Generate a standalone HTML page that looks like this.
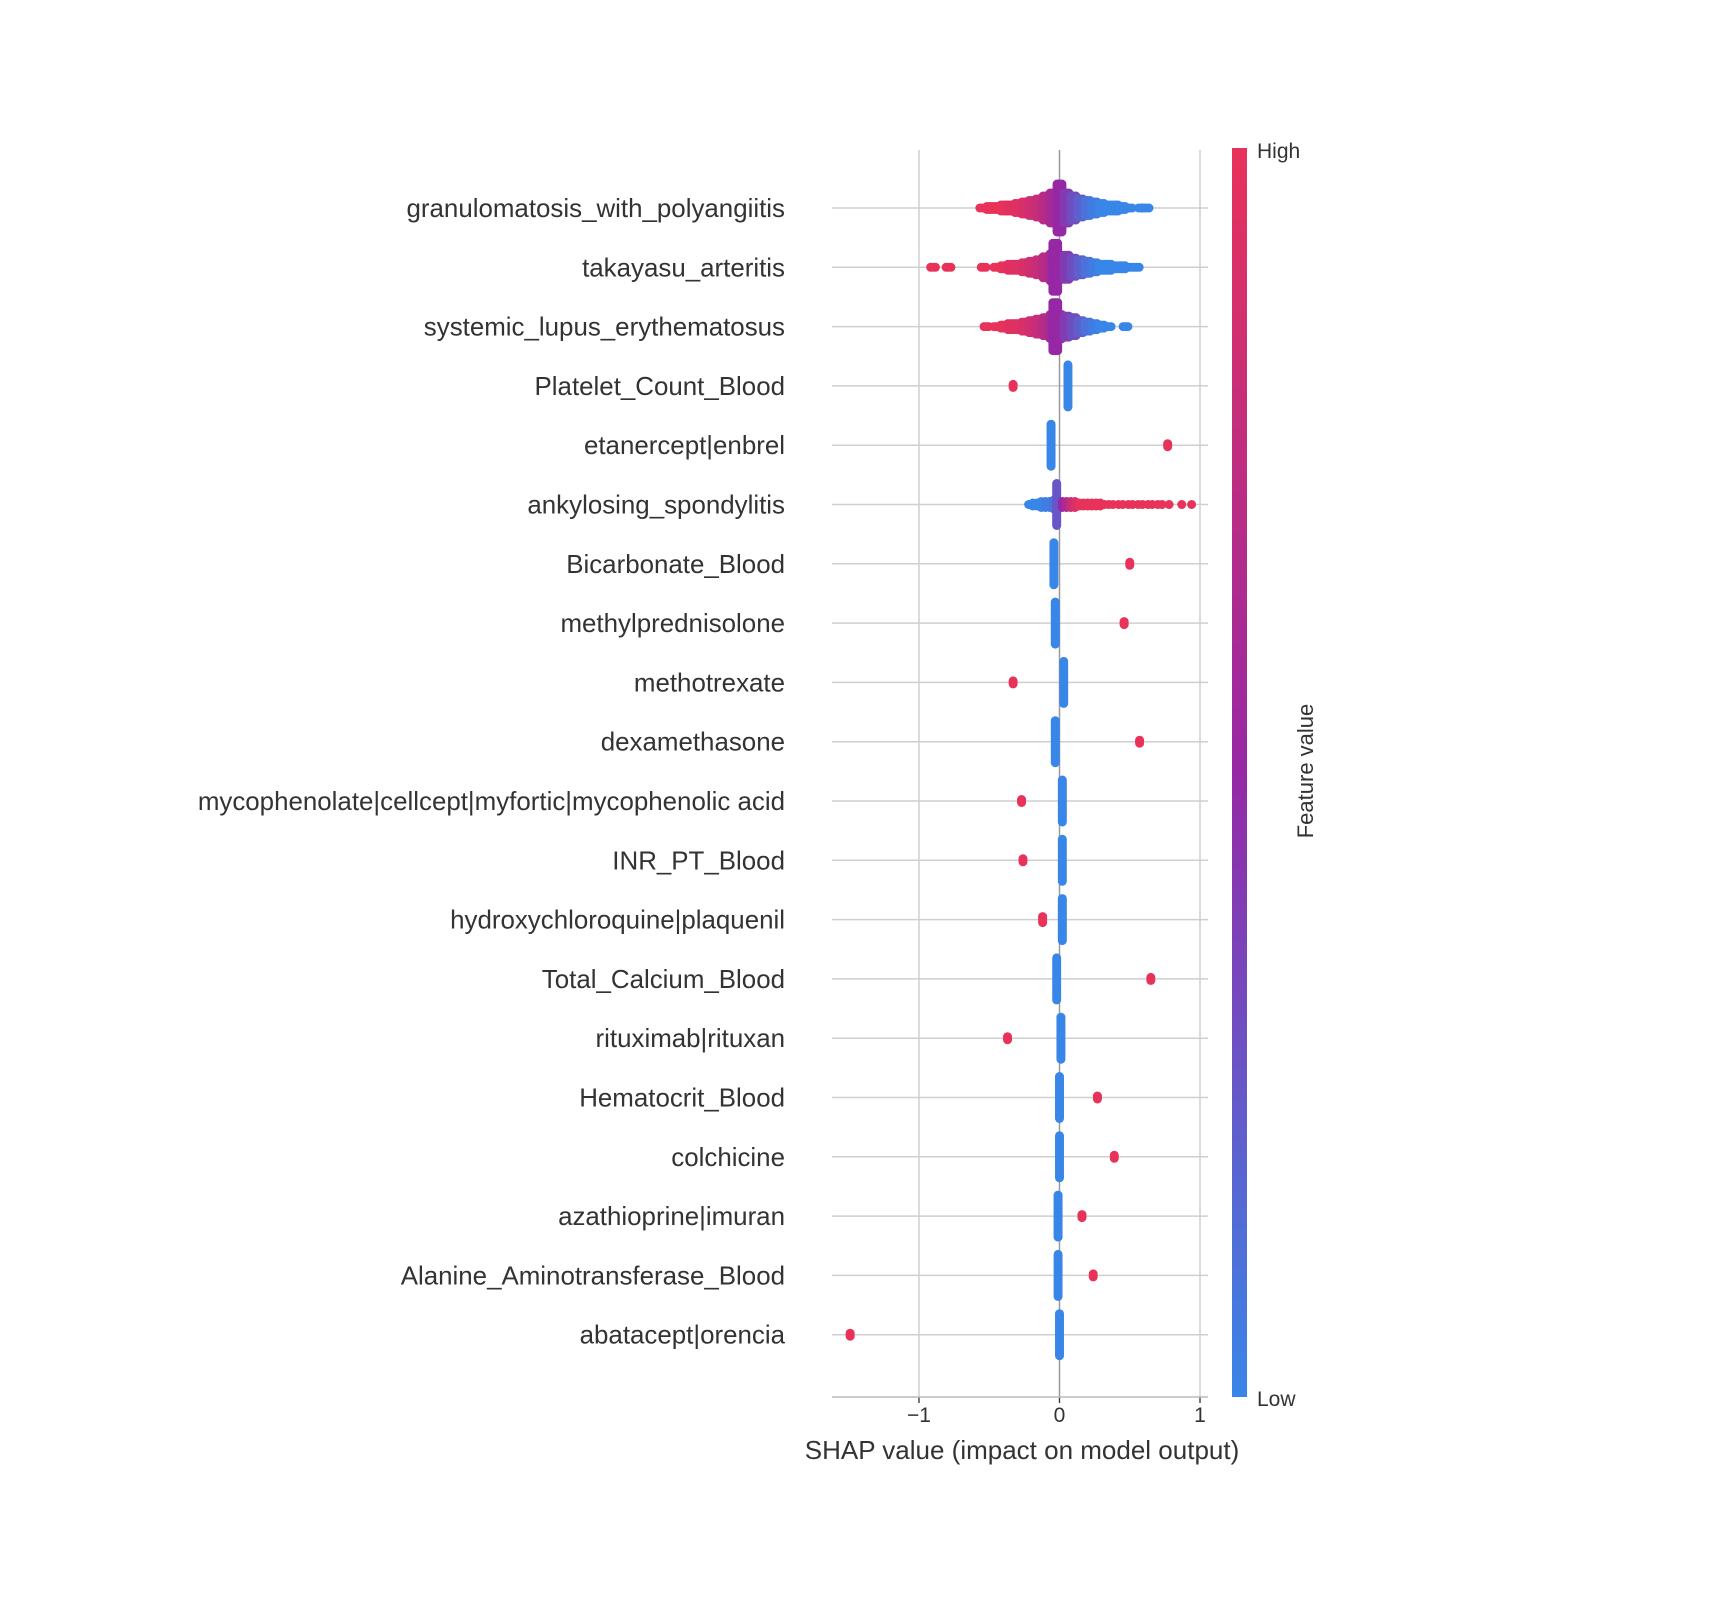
<!DOCTYPE html>
<html><head><meta charset="utf-8"><style>
html,body{margin:0;padding:0;background:#fff;}
svg{display:block;font-family:"Liberation Sans",Arial,sans-serif;}
</style></head><body>
<svg id="chart" width="1718" height="1600" viewBox="0 0 1718 1600" xmlns="http://www.w3.org/2000/svg">
<defs>
<linearGradient id="cbar" x1="0" y1="1" x2="0" y2="0">
<stop offset="0" stop-color="rgb(56,134,232)"/>
<stop offset="0.5" stop-color="rgb(150,40,165)"/>
<stop offset="1" stop-color="rgb(232,50,90)"/>
</linearGradient>
</defs>
<g id="grid"></g>
<g id="marks"></g>
<g id="labels"></g>
<g id="xaxis"></g>
<text x="1022" y="1459" text-anchor="middle" font-size="26" fill="#333">SHAP value (impact on model output)</text>
<rect x="1232" y="148" width="15" height="1249" fill="url(#cbar)"/>
<text x="1257" y="158" font-size="21" fill="#333">High</text>
<text x="1257" y="1406" font-size="21" fill="#333">Low</text>
<text transform="translate(1313,771) rotate(-90)" text-anchor="middle" font-size="22" fill="#333">Feature value</text>
</svg>
<script>
const features = ["granulomatosis_with_polyangiitis","takayasu_arteritis","systemic_lupus_erythematosus","Platelet_Count_Blood","etanercept|enbrel","ankylosing_spondylitis","Bicarbonate_Blood","methylprednisolone","methotrexate","dexamethasone","mycophenolate|cellcept|myfortic|mycophenolic acid","INR_PT_Blood","hydroxychloroquine|plaquenil","Total_Calcium_Blood","rituximab|rituxan","Hematocrit_Blood","colchicine","azathioprine|imuran","Alanine_Aminotransferase_Blood","abatacept|orencia"];
const xTicks = [-1, 0, 1];
const xTickLabels = ["\u22121", "0", "1"];
// each entry: [shap value, stack layers, feature value 0..1]; dense rows use bins of 0.05
const denseRows = [0, 1, 2];
const row0 = [[-0.55,0,1],[-0.5,0.5,1],[-0.45,0.5,1],[-0.4,1,1],[-0.35,1,.95],[-0.3,1.5,.95],[-0.25,2,.9],[-0.2,2.5,.85],[-0.15,3,.8],[-0.1,4,.7],[-0.05,5,.6],[0,8,.5],[0.05,5,.4],[0.1,4,.3],[0.15,3,.2],[0.2,2.5,.1],[0.25,2,.05],[0.3,1.5,0],[0.35,1,0],[0.4,1,0],[0.45,0.5,0],[0.5,0,0],[0.58,0,0],[0.62,0,0]];
const row1 = [[-0.9,0,1],[-0.79,0,1],[-0.54,0,1],[-0.45,0,1],[-0.4,0.5,1],[-0.35,1,.95],[-0.3,1,.95],[-0.25,1.5,.9],[-0.2,2,.85],[-0.15,2.5,.8],[-0.1,3.5,.7],[-0.05,4.5,.6],[-0.03,8,.5],[0,4,.5],[0.05,4,.4],[0.1,3,.3],[0.15,2.5,.2],[0.2,2,.1],[0.25,1.5,.05],[0.3,1,0],[0.35,1,0],[0.4,0.5,0],[0.45,0.5,0],[0.5,0,0],[0.55,0,0]];
const row2 = [[-0.52,0,1],[-0.45,0,1],[-0.4,0.5,1],[-0.35,1,.95],[-0.3,1,.95],[-0.25,1.5,.9],[-0.2,2,.85],[-0.15,2.5,.8],[-0.1,3,.7],[-0.05,4,.6],[-0.03,8,.5],[0,4,.5],[0.05,3.5,.4],[0.1,3,.3],[0.15,2,.2],[0.2,1.5,.1],[0.25,1,.05],[0.3,0.5,0],[0.35,0,0],[0.47,0,0]];
const row3 = [[-0.33,0.7,1],[0.06,7,0]];
const row4 = [[-0.06,7,0],[0.77,0.3,1]];
const row5 = [[-0.22,0,0],[-0.19,0.5,0],[-0.16,0.5,0],[-0.13,1,0],[-0.1,1,0.05],[-0.07,1,0.05],[-0.04,1.5,0.1],[-0.02,7,0.25],[0.02,1,0.5],[0.05,1,0.65],[0.08,1,0.8],[0.11,1,0.9],[0.14,0.5,1],[0.17,0.5,1],[0.2,0.5,1],[0.23,0.5,1],[0.26,0.5,1],[0.29,0.5,1],[0.32,0,1],[0.35,0,1],[0.38,0,1],[0.42,0,1],[0.45,0,1],[0.49,0,1],[0.52,0,1],[0.56,0,1],[0.59,0,1],[0.63,0,1],[0.66,0,1],[0.7,0,1],[0.73,0,1],[0.78,0,1],[0.87,0,1],[0.94,0,1]];
const row6 = [[-0.04,7,0],[0.5,0.3,1]];
const row7 = [[-0.03,7,0],[0.46,0.5,1]];
const row8 = [[-0.33,0.5,1],[0.03,7,0]];
const row9 = [[-0.03,7,0],[0.57,0.5,1]];
const row10 = [[-0.27,0.5,1],[0.02,7,0]];
const row11 = [[-0.26,0.7,1],[0.02,7,0]];
const row12 = [[-0.12,1,1],[0.02,7,0]];
const row13 = [[-0.02,7,0],[0.65,0.3,1]];
const row14 = [[-0.37,0.3,1],[0.01,7,0]];
const row15 = [[0,7,0],[0.27,0.5,1]];
const row16 = [[0,7,0],[0.39,0.3,1]];
const row17 = [[-0.01,7,0],[0.16,0.5,1]];
const row18 = [[-0.01,7,0],[0.24,0.3,1]];
const row19 = [[0,7,0],[-1.49,0.3,1]];
const rows = [row0,row1,row2,row3,row4,row5,row6,row7,row8,row9,row10,row11,row12,row13,row14,row15,row16,row17,row18,row19];

const NS = "http://www.w3.org/2000/svg";
const X0 = 1059.5, XS = 140.5, Y0 = 208, YS = 59.3, GL = 832, GR = 1208, GT = 150, GB = 1397;
function xScale(v){ return X0 + v*XS; }
function yScale(i){ return Y0 + i*YS; }
function color(fv){
  const b=[56,134,232], p=[150,40,165], r=[232,50,90];
  let a,c,t;
  if(fv<=0.5){a=b;c=p;t=fv/0.5;} else {a=p;c=r;t=(fv-0.5)/0.5;}
  return "rgb("+a.map((v,k)=>Math.round(v+(c[k]-v)*t)).join(",")+")";
}
function mk(tag, attrs, parent){
  const el=document.createElementNS(NS,tag);
  for(const k in attrs) el.setAttribute(k,attrs[k]);
  parent.appendChild(el); return el;
}
const grid=document.getElementById('grid'), marks=document.getElementById('marks'),
      labels=document.getElementById('labels'), xaxis=document.getElementById('xaxis');
features.forEach((f,i)=>{
  const ln=mk('line',{x1:GL,x2:GR,y1:yScale(i),y2:yScale(i),stroke:'#cfcfcf','stroke-width':1.5},grid);
  
  
  const t=mk('text',{x:785,y:yScale(i)+9,'text-anchor':'end','font-size':25.9,fill:'#333'},labels);
  t.textContent=f;
  
  
});
xTicks.forEach((v,k)=>{
  const g=mk('line',{x1:xScale(v),x2:xScale(v),y1:GT,y2:GB,stroke:v===0?'#999':'#cfcfcf','stroke-width':1.5},grid);
  
  
  const tk=mk('line',{x1:xScale(v),x2:xScale(v),y1:GB,y2:GB+6,stroke:'#333','stroke-width':1.3},xaxis);
  
  
  const tl=mk('text',{x:xScale(v),y:GB+25,'text-anchor':'middle','font-size':21,fill:'#333'},xaxis);
  tl.textContent=xTickLabels[k];
  
  
});
const ax=mk('line',{x1:GL,x2:GR,y1:GB,y2:GB,stroke:'#bbb','stroke-width':1.5},xaxis);


rows.forEach((row,i)=>{
  const dense = denseRows.includes(i);
  const subs = dense ? [-0.017,0,0.017] : [0];
  row.forEach(([v,layers,fv])=>{
    const n=Math.round(layers*2);
    subs.forEach(s=>{
      for(let k=-n;k<=n;k++){
        const c=mk('circle',{cx:xScale(v+s),cy:yScale(i)+k*1.5,r:4.5,fill:color(fv)},marks);
        
        
      }
    });
  });
});
</script>
</body></html>
